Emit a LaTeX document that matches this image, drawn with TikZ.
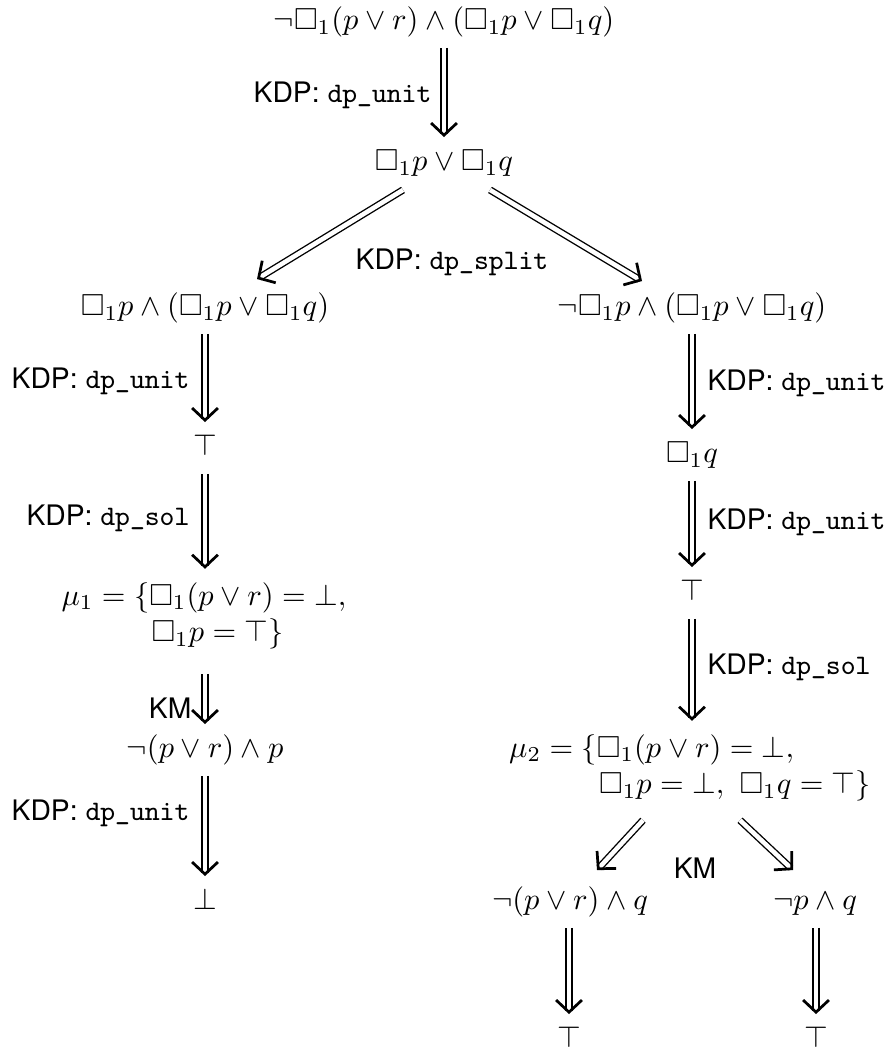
\documentclass[tikz,border=0pt]{standalone}
\usepackage{amssymb}
\usepackage{fontspec}
\newfontfamily\labfont{TeX Gyre Heros}
\usetikzlibrary{arrows.meta,calc}
\begin{document}
\begin{tikzpicture}[x=0.329pt,y=-0.329pt,
  fm/.style={text height=7.5pt,text depth=2.5pt},
  lab/.style={font=\labfont\fontsize{9.3pt}{11pt}\selectfont,inner sep=0pt},
  imp/.style={double,double distance=1.5pt,line width=0.45pt,
     -{Straight Barb[length=4pt,width=8.5pt,line width=0.9pt]}},
]
\useasboundingbox (0,0) rectangle (888,1055);
% nodes
\node[fm] (n0) at (444,22) {$\neg\Box_1(p\vee r)\wedge(\Box_1p\vee\Box_1q)$};
\node[fm] (n1) at (444,163) {$\Box_1p\vee\Box_1q$};
\node[fm] (n3) at (205,308) {$\Box_1p\wedge(\Box_1p\vee\Box_1q)$};
\node[fm] (n4) at (692,308) {$\neg\Box_1p\wedge(\Box_1p\vee\Box_1q)$};
\node[fm] (tL) at (205,448) {$\top$};
\node (m1) at (204,616) {$\begin{array}{l}\mu_1=\{\Box_1(p\vee r)=\bot,\\ \hspace{29.6pt}\Box_1p=\top\}\end{array}$};
\node[fm] (aL) at (205,750) {$\neg(p\vee r)\wedge p$};
\node[fm] (bL) at (205,902) {$\bot$};
\node[fm] (qR) at (692,455) {$\Box_1q$};
\node[fm] (tR) at (692,593) {$\top$};
\node (m2) at (690,768) {$\begin{array}{l}\mu_2=\{\Box_1(p\vee r)=\bot,\\ \hspace{29.6pt}\Box_1p=\bot,\ \Box_1q=\top\}\end{array}$};
\node[fm] (lL) at (570,902) {$\neg(p\vee r)\wedge q$};
\node[fm] (lR) at (815,902) {$\neg p\wedge q$};
\node[fm] (eL) at (569,1040) {$\top$};
\node[fm] (eR) at (816,1040) {$\top$};
% labels
\node[lab,anchor=east] (k0) at (432,95) {KDP: \texttt{dp\_unit}};
\node[lab] (k1) at (452,262) {KDP: \texttt{dp\_split}};
\node[lab,anchor=east] (k2) at (190,381) {KDP: \texttt{dp\_unit}};
\node[lab,anchor=east] (k3) at (190,518) {KDP: \texttt{dp\_sol}};
\node[lab,anchor=east] (k4) at (192,708) {KM};
\node[lab,anchor=east] (k5) at (190,813) {KDP: \texttt{dp\_unit}};
\node[lab,anchor=west] (k6) at (707,383) {KDP: \texttt{dp\_unit}};
\node[lab,anchor=west] (k7) at (707,522) {KDP: \texttt{dp\_unit}};
\node[lab,anchor=west] (k8) at (707,667) {KDP: \texttt{dp\_sol}};
\node[lab] (k9) at (695,868) {KM};
% arrows
\draw[imp] (n0) -- (n1);
\draw[imp] ($(n1.south)+(-41,1)$) -- ($(n3.north)+(52,-3)$);
\draw[imp] ($(n1.south)+(46,1)$) -- ($(n4.north)+(-50,-1)$);
\draw[imp] (n3) -- (tL);
\draw[imp] (tL) -- (m1.north -| tL);
\draw[imp,shorten <=3.5pt] (m1.south -| aL) -- (aL);
\draw[imp] (aL) -- (bL);
\draw[imp] (n4) -- (qR);
\draw[imp] (qR) -- (tR);
\draw[imp] (tR) -- (m2.north -| tR);
\draw[imp] ($(m2.south)+(-47,5)$) -- ($(lL.north)+(27,-6)$);
\draw[imp] ($(m2.south)+(50,5)$) -- ($(lR.north)+(-22,-6)$);
\draw[imp] (lL.south -| eL) -- (eL);
\draw[imp] (lR.south -| eR) -- (eR);
\end{tikzpicture}
\end{document}
